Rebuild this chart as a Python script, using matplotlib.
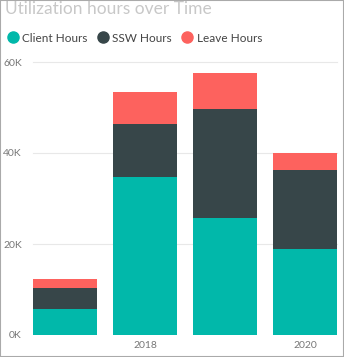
import matplotlib.pyplot as plt
from matplotlib.lines import Line2D
from matplotlib.patches import Rectangle

plt.rcParams['font.family'] = ['Lato', 'DejaVu Sans']

years = [2017, 2018, 2019, 2020]
client_hours = [5700, 34700, 25700, 18900]
ssw_hours = [4600, 11700, 24000, 17400]
leave_hours = [2000, 7000, 7900, 3700]
tick_years = [2018, 2020]
yticks = [0, 20000, 40000, 60000]
ytick_labels = ['0K', '20K', '40K', '60K']

colors = {'Client Hours': '#01B8AA', 'SSW Hours': '#374649', 'Leave Hours': '#FD625E'}

fig = plt.figure(figsize=(3.44, 3.57), dpi=100)
ax = fig.add_axes([33 / 344, 22 / 357, 304 / 344, 273 / 357])

x = list(range(len(years)))
ax.bar(x, client_hours, width=0.8, color=colors['Client Hours'], zorder=2)
ax.bar(x, ssw_hours, width=0.8, bottom=client_hours, color=colors['SSW Hours'], zorder=2)
base = [c + s for c, s in zip(client_hours, ssw_hours)]
ax.bar(x, leave_hours, width=0.8, bottom=base, color=colors['Leave Hours'], zorder=2)

ax.set_xlim(-0.4, 3.4)
ax.set_ylim(0, 60000)
ax.set_yticks(yticks)
ax.set_yticklabels(ytick_labels)
ax.set_xticks([years.index(y) for y in tick_years])
ax.set_xticklabels([str(y) for y in tick_years])
ax.tick_params(length=0, colors='#777777', labelsize=7.5)
ax.tick_params(axis='y', pad=8)
ax.tick_params(axis='x', pad=4)
for y in yticks[1:]:
    ax.axhline(y, color='#E8E8E8', lw=0.8, zorder=1, clip_on=False)
for s in ax.spines.values():
    s.set_visible(False)

fig.text(5 / 344, 1 - 9 / 357, 'Utilization hours over Time', fontsize=12.5,
         color='#C8C8C8', va='center', ha='left')

handles = [Line2D([], [], marker='o', ls='', markersize=8, color=c) for c in colors.values()]
fig.legend(handles, list(colors.keys()), loc='center left', bbox_to_anchor=(1 / 344, 1 - 38 / 357),
           ncol=3, frameon=False, fontsize=8.5, handletextpad=-0.2, columnspacing=0.3,
           borderpad=0, borderaxespad=0, labelcolor='#444444')

fig.patches.append(Rectangle((0, 0), 1, 1, transform=fig.transFigure, fill=False,
                             edgecolor='#AAAAAA', lw=1.5, zorder=10))

fig.savefig('out.png', dpi=100)
